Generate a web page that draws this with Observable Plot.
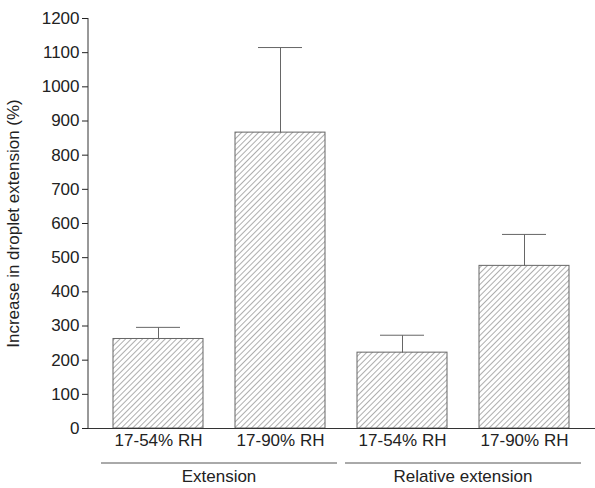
<!DOCTYPE html>
<html>
<head>
<script src="https://cdn.jsdelivr.net/npm/d3@7"></script>
<script src="https://cdn.jsdelivr.net/npm/@observablehq/plot@0.6"></script>
<style>body{margin:0;background:#fff}</style>
</head>
<body>
<div id="chart"></div>
<script>
// bars
const keys = ["a", "b", "c", "d"];
const labels = ["17-54% RH", "17-90% RH", "17-54% RH", "17-90% RH"];
const means = [262, 866, 222, 476];
const upper = [296, 1115, 273, 568];
const groups = ["Extension", "Relative extension"];

const data = keys.map((k, i) => ({key: k, mean: means[i], up: upper[i]}));

const chart = Plot.plot({
  width: 595, height: 488,
  marginLeft: 88, marginRight: 0, marginTop: 18, marginBottom: 60,
  style: {fontFamily: "Liberation Sans, Arial, sans-serif", fontSize: "17px", color: "#222"},
  x: {domain: keys, paddingInner: 0.26, paddingOuter: 0.2},
  y: {domain: [0, 1200]},
  marks: [
    Plot.barY(data, {x: "key", y: "mean", fill: "url(#hatch)", stroke: "#666", strokeWidth: 1}),
    Plot.link(data, {x1: "key", x2: "key", y1: "mean", y2: "up", stroke: "#666"}),
    Plot.tickY(data, {x: "key", y: "up", stroke: "#666", insetLeft: 23, insetRight: 23}),
    Plot.ruleY([0], {stroke: "#333"}),
    Plot.axisY({ticks: d3.range(0, 1201, 100), tickFormat: d => String(d), tickSize: 6, tickPadding: 3, label: "Increase in droplet extension (%)", labelAnchor: "center", labelArrow: "none", labelOffset: 82, fontSize: 17}),
    Plot.axisX({tickFormat: (d, i) => labels[i], tickSize: 0, label: null, fontSize: 17, tickPadding: 5})
  ]
});

const svg = d3.select(chart);
const defs = svg.insert("defs", ":first-child");
const p = defs.append("pattern").attr("id", "hatch").attr("patternUnits", "userSpaceOnUse")
  .attr("width", 4).attr("height", 4).attr("patternTransform", "rotate(45)");
p.append("rect").attr("width", 4).attr("height", 4).attr("fill", "#fff");
p.append("line").attr("x1", 0).attr("y1", 0).attr("x2", 0).attr("y2", 4).attr("stroke", "#777").attr("stroke-width", 1.2);

// y axis line
svg.append("line").attr("x1", 88).attr("x2", 88).attr("y1", 18).attr("y2", 428).attr("stroke", "#333");

// group brackets
const x = chart.scale("x");
groups.forEach((g, gi) => {
  const a = x.apply(keys[gi * 2]) - 12, b = x.apply(keys[gi * 2 + 1]) + x.bandwidth + 12;
  svg.append("line").attr("x1", a).attr("x2", b).attr("y1", 463).attr("y2", 463).attr("stroke", "#555");
  svg.append("text").attr("x", (a + b) / 2).attr("y", 482).attr("text-anchor", "middle")
    .attr("font-size", 17).attr("fill", "#222").text(g);
});

document.getElementById("chart").appendChild(chart);
</script>
</body>
</html>
